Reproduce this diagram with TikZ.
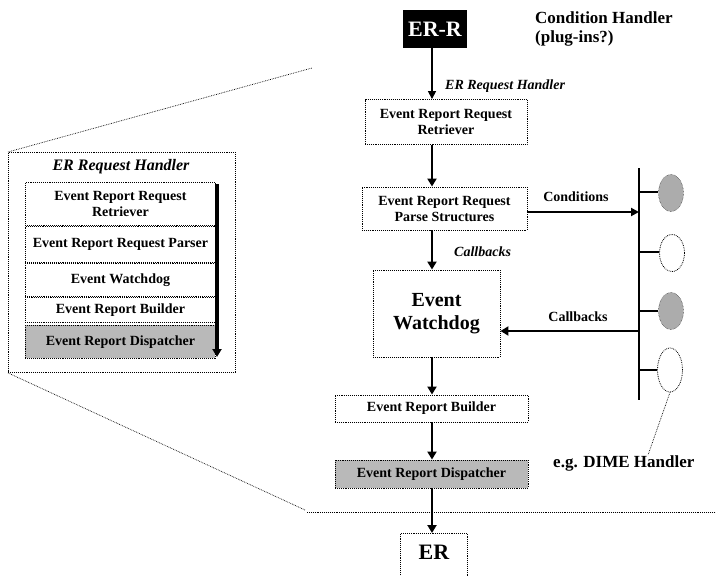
\documentclass[tikz,border=0pt]{standalone}
\usepackage{fontspec}
\setmainfont{Liberation Serif}
\usetikzlibrary{arrows.meta,shapes.geometric}
\begin{document}
\begin{tikzpicture}[x=1pt,y=-1pt,
  stage/.style={draw, densely dotted, line width=0.9pt, align=center, font=\bfseries\fontsize{14}{16}\selectfont, inner sep=0pt},
  shaded/.style={stage, fill=gray!55},
  flow/.style={line width=2.6pt, -{Triangle[length=8pt,width=9pt]}},
  flowthin/.style={line width=1.6pt, -{Triangle[length=8pt,width=8pt]}},
  lbl/.style={font=\bfseries\itshape\fontsize{14}{16}\selectfont, inner sep=1pt},
  note/.style={font=\bfseries\fontsize{17}{19}\selectfont, align=left, inner sep=0pt},
  zoomline/.style={densely dotted, line width=0.7pt},
  bus/.style={line width=1.8pt},
  cond/.style={ellipse, minimum width=25pt, minimum height=37pt, inner sep=0pt}
]
\useasboundingbox (0,0) rectangle (716,576);

% main pipeline
\node[fill=black, text=white, font=\bfseries\fontsize{22}{24}\selectfont, minimum width=64pt, minimum height=38pt, inner sep=0pt] (err) at (435,29) {ER-R};
\node[note, anchor=north west] (condh) at (535,12) {Condition Handler\\(plug-ins?)};
\node[stage, minimum width=162pt, minimum height=45pt] (retr) at (446,122) {Event Report Request\\Retriever};
\node[stage, minimum width=165pt, minimum height=43pt] (pars) at (444.5,208.5) {Event Report Request\\Parse Structures};
\node[stage, minimum width=127pt, minimum height=87pt, font=\bfseries\fontsize{20}{23}\selectfont] (wd) at (436.5,313.5) {Event\\Watchdog};
\node[stage, minimum width=193pt, minimum height=27pt] (bld) at (431.5,408.5) {Event Report Builder};
\node[shaded, minimum width=193pt, minimum height=28pt] (disp) at (431.5,474) {Event Report Dispatcher};
\node[stage, minimum width=67pt, minimum height=50pt, anchor=north west] (er) at (400,533) {};
\node[font=\bfseries\fontsize{22}{24}\selectfont, inner sep=0pt] (ertxt) at (434,552) {ER};

\draw[flowthin] (err.south -| 432,0) -- (retr.north -| 432,0);
\node[lbl, anchor=west] (reqh) at (444,86) {ER Request Handler};
\draw[flow] (retr.south -| 432,0) -- (pars.north -| 432,0);
\draw[flow] (pars.south -| 432,0) -- (wd.north -| 432,0);
\node[lbl, anchor=west] (cb1) at (453,252) {Callbacks};
\draw[flow] (wd.south -| 432,0) -- (bld.north -| 432,0);
\draw[flow] (bld.south -| 432,0) -- (disp.north -| 432,0);
\draw[flow] (disp.south -| 432,0) -- (er.north -| 432,0);

% condition bus with plug-ins
\coordinate (bustop) at (639,168);
\coordinate (busbot) at (639,400);
\draw[bus] (bustop) -- (busbot);
\node[cond, fill=gray!65, draw, densely dotted] (c1) at (671,193) {};
\node[cond, draw, densely dotted, line width=0.8pt] (c2) at (672,253) {};
\node[cond, fill=gray!65, draw, densely dotted] (c3) at (671,311) {};
\node[cond, draw, densely dotted, line width=0.8pt, minimum height=44pt] (c4) at (670,370) {};
\draw[line width=1.4pt] (c1.west |- 0,192) -- (bustop |- 0,192);
\draw[line width=1.4pt] (c2.west |- 0,252) -- (bustop |- 0,252);
\draw[line width=1.4pt] (c3.west |- 0,311) -- (bustop |- 0,311);
\draw[line width=1.4pt] (c4.west |- 0,370) -- (bustop |- 0,370);

\coordinate (condin) at (639,212);
\draw[line width=2pt, -{Triangle[length=8pt,width=8pt]}] (pars.east |- condin) -- (condin);
\node[lbl, font=\bfseries\fontsize{14}{16}\selectfont, anchor=south] (condl) at (576,203) {Conditions};
\coordinate (cbout) at (639,331);
\draw[flow] (cbout) -- (wd.east |- cbout);
\node[lbl, font=\bfseries\fontsize{14}{16}\selectfont, anchor=south] (cb2) at (578,323) {Callbacks};

\node[note, anchor=west] (dime) at (553,463) {e.g. DIME Handler};
\draw[zoomline] (c4.south) -- (dime.north -| 648,0);

% boundary line
\coordinate (bl) at (307,512);
\coordinate (br) at (716,512);
\draw[densely dotted, line width=0.9pt] (bl) -- (br);

% magnified handler view
\node[stage, minimum width=227pt, minimum height=220pt, anchor=north west] (panel) at (8,152) {};
\node[lbl, font=\bfseries\itshape\fontsize{16}{18}\selectfont] (ptitle) at (121,167) {ER Request Handler};
\node[stage, minimum width=190pt, minimum height=43pt, anchor=north west] (p1) at (25,182) {Event Report Request\\Retriever};
\node[stage, minimum width=190pt, minimum height=36pt, anchor=north west] (p2) at (25,226) {Event Report Request Parser};
\node[stage, minimum width=190pt, minimum height=33pt, anchor=north west] (p3) at (25,263) {Event Watchdog};
\node[stage, minimum width=190pt, minimum height=25pt, anchor=north west] (p4) at (25,297) {Event Report Builder};
\node[shaded, minimum width=190pt, minimum height=33pt, anchor=north west] (p5) at (25,325) {Event Report Dispatcher};
\coordinate (pa) at (217,184);
\coordinate (pb) at (217,357);
\draw[line width=3.2pt, -{Triangle[length=8pt,width=9pt]}] (pa) -- (pb);

% magnification guides
\coordinate (gt) at (312,68);
\coordinate (gb) at (305,510);
\draw[zoomline] (panel.north west) -- (gt);
\draw[zoomline] (panel.south west) -- (gb);
\end{tikzpicture}
\end{document}
